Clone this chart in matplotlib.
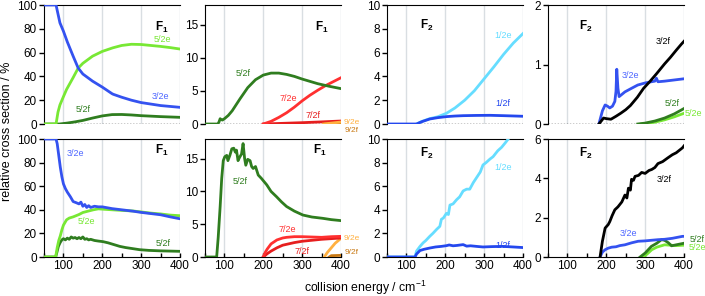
import matplotlib
matplotlib.use("Agg")
import matplotlib.pyplot as plt
from matplotlib.ticker import MultipleLocator

plt.rcParams['font.family'] = ['Liberation Sans', 'DejaVu Sans']
plt.rcParams['mathtext.fontset'] = 'custom'
plt.rcParams['mathtext.rm'] = 'Liberation Sans'
plt.rcParams['mathtext.bf'] = 'Liberation Sans:bold'

BLUE = '#3452f0'
LGREEN = '#78e834'
DGREEN = '#2f7d1f'
RED = '#ff3030'
RED2 = '#e61e1e'
ORANGE = '#ffb040'
DORANGE = '#c87812'
CYAN = '#66ddff'
BLUE2 = '#2448ee'
BLACK = '#000000'

# ---- top row, F1 (0-100 %) ----
a_x32e = [50, 81, 91, 100, 110, 125, 138, 150, 175, 200, 225, 228, 250, 275, 300, 350, 400]
a_y32e = [100, 100, 85, 78, 69, 57, 47, 42, 36, 31, 25.5, 25, 22.5, 20, 18, 15.5, 14]
a_x52e = [50, 81, 86, 91, 100, 108, 125, 138, 150, 175, 200, 227, 250, 275, 300, 325, 350, 375, 400]
a_y52e = [0, 0, 10, 16, 23, 29, 39, 47, 51, 57, 61, 64, 66, 67, 66.8, 66, 65.2, 64.2, 63]
a_x52f = [50, 90, 110, 130, 150, 175, 200, 225, 250, 275, 300, 350, 400]
a_y52f = [0, 0, 0.8, 1.8, 3, 5, 6.8, 7.9, 8, 7.6, 7, 6.2, 5.6]

# ---- top row, F1 (small) ----
b_x52f = [50, 83, 86, 89, 92, 95, 100, 110, 120, 140, 160, 180, 200, 220, 240, 260, 280, 300, 320, 340, 370, 400]
b_y52f = [0, 0, 0.3, 0.8, 0.65, 0.6, 0.8, 1.3, 2.0, 3.8, 5.5, 6.7, 7.4, 7.7, 7.7, 7.5, 7.2, 6.8, 6.45, 6.1, 5.7, 5.35]
b_x72e = [200, 220, 240, 260, 280, 300, 320, 340, 360, 380, 400]
b_y72e = [0, 0.4, 1.0, 1.7, 2.55, 3.5, 4.35, 5.1, 5.8, 6.4, 7.0]
b_x72f = [200, 250, 300, 350, 400]
b_y72f = [0, 0.1, 0.2, 0.32, 0.45]
b_x92e = [355, 370, 385, 400]
b_y92e = [0, 0.1, 0.2, 0.3]
b_x92f = [360, 400]
b_y92f = [0, 0.1]

# ---- top row, F2 (0-10) ----
c_x12f = [50, 126, 140, 160, 180, 203, 225, 246, 280, 315, 350, 400]
c_y12f = [0, 0, 0.2, 0.42, 0.53, 0.62, 0.67, 0.7, 0.72, 0.73, 0.7, 0.65]
c_x12e = [126, 140, 160, 180, 203, 225, 250, 275, 300, 325, 350, 375, 400]
c_y12e = [0, 0.22, 0.45, 0.6, 0.9, 1.35, 2.0, 2.8, 3.8, 4.8, 5.85, 6.8, 7.6]

# ---- top row, F2 (0-2) ----
d_x32e = [181, 190, 197, 203, 209, 216, 222, 225, 227, 230, 233, 248, 265, 281, 300, 316, 325, 329, 333, 350, 375, 400]
d_y32e = [0, 0.22, 0.32, 0.3, 0.27, 0.3, 0.38, 0.55, 0.92, 0.6, 0.46, 0.54, 0.6, 0.655, 0.69, 0.71, 0.72, 0.77, 0.71, 0.72, 0.74, 0.76]
d_x32f = [181, 193, 200, 212, 225, 237, 250, 262, 280, 296, 313, 330, 350, 365, 380, 393, 400]
d_y32f = [0, 0.1, 0.09, 0.08, 0.13, 0.18, 0.24, 0.31, 0.45, 0.6, 0.72, 0.85, 1.01, 1.12, 1.24, 1.34, 1.39]
d_x52f = [281, 300, 325, 350, 375, 400]
d_y52f = [0, 0.015, 0.05, 0.1, 0.17, 0.26]
d_x52e = [290, 325, 350, 375, 400]
d_y52e = [0, 0.03, 0.07, 0.12, 0.18]

# ---- bottom row, F1 (0-100 %) ----
e_x32e = [50, 81, 84, 88, 92, 96, 100, 105, 110, 118, 125, 133, 140, 145, 150, 155, 160, 165, 170, 180,
          190, 200, 225, 250, 280, 300, 325, 350, 375, 400]
e_y32e = [100, 100, 96, 86, 76, 68, 62, 58, 55, 51, 47, 46, 45, 46.5, 43, 44.5, 42, 43.5, 42, 43,
          42.5, 42.5, 41, 40, 38.8, 37.8, 36.8, 35.8, 34, 32.4]
e_x52e = [50, 80, 84, 88, 92, 96, 100, 108, 115, 125, 140, 150, 165, 177, 190, 202, 225, 250, 279, 300,
          325, 350, 375, 400]
e_y52e = [0, 0, 8, 14, 18, 23, 27, 31.5, 33, 34, 36, 37.7, 39, 40, 40.8, 40.5, 40, 39.5, 39, 38.2,
          37.2, 36.5, 35.5, 35]
e_x52f = [50, 80, 84, 87, 92, 96, 100, 105, 110, 115, 120, 125, 130, 135, 140, 145, 150, 155, 160, 165,
          170, 180, 190, 202, 215, 230, 245, 260, 280, 296, 320, 350, 375, 400]
e_y52f = [0, 0, 5, 9, 12.5, 14.5, 15.5, 14.5, 16, 15, 17, 16, 16.5, 15.5, 16.5, 15.5, 17, 15, 15.5, 14.5,
          15, 14, 13.5, 13, 12, 10.5, 9, 8, 7, 6.2, 5.6, 5.2, 5, 4.8]

# ---- bottom row, F1 (small) ----
f_x52f = [50, 80, 84, 89, 93, 97, 101, 106, 109, 114, 119, 124, 128, 131, 135, 139, 144, 148, 152, 155,
          160, 166, 170, 174, 180, 187, 195, 209, 220, 234, 247, 260, 280, 302, 325, 353, 375, 400]
f_y52f = [0, 0, 3, 7.7, 12, 14.7, 15.3, 15.5, 14.7, 15.5, 16.5, 16.6, 16, 16.3, 14.7, 15.2, 15.7, 17.3, 15, 14,
          14.9, 14.7, 13.8, 13.5, 13.8, 12.5, 12, 11, 10, 9.2, 8.4, 7.7, 7, 6.4, 6.1, 5.9, 5.7, 5.55]
f_x72e = [200, 205, 210, 220, 235, 250, 260, 280, 300, 325, 350, 375, 400]
f_y72e = [0, 0.7, 1.2, 2.0, 2.6, 2.9, 3.0, 3.1, 3.1, 3.05, 3.0, 3.1, 3.15]
f_x72f = [200, 210, 220, 235, 250, 265, 280, 300, 325, 350, 375, 400]
f_y72f = [0, 0.5, 0.9, 1.4, 1.8, 2.0, 2.2, 2.4, 2.55, 2.7, 2.8, 2.9]
f_x92e = [357, 365, 375, 385, 395, 400]
f_y92e = [0, 0.7, 1.4, 2.1, 2.6, 2.85]
f_x92f = [370, 375, 400]
f_y92f = [0, 0.2, 0.25]

# ---- bottom row, F2 (0-10) ----
g_x12e = [50, 122, 126, 135, 143, 150, 160, 168, 178, 186, 190, 195, 203, 208, 212, 220, 229, 237, 246, 255,
          263, 272, 280, 290, 297, 305, 315, 323, 335, 345, 355, 362]
g_y12e = [0, 0, 0.5, 0.9, 1.2, 1.4, 1.75, 2.0, 2.35, 2.6, 3.2, 3.3, 3.7, 3.6, 4.4, 4.5, 4.85, 5.1, 5.6, 5.75,
          5.75, 6.3, 6.7, 7.2, 7.8, 8.0, 8.3, 8.5, 9.0, 9.3, 9.7, 10.0]
g_x12f = [50, 122, 126, 135, 145, 160, 175, 190, 203, 210, 220, 230, 246, 255, 265, 280, 297, 320, 348, 375, 400]
g_y12f = [0, 0, 0.25, 0.55, 0.65, 0.76, 0.85, 0.9, 0.96, 1.02, 0.95, 0.98, 1.05, 0.92, 0.95, 0.9, 0.85, 0.88,
          0.9, 0.85, 0.8]

# ---- bottom row, F2 (0-6) ----
h_x32f = [184, 190, 197, 205, 209, 215, 222, 230, 240, 248, 253, 257, 262, 265, 270, 274, 283, 291, 300, 310,
          317, 325, 333, 345, 359, 370, 380, 396, 400]
h_y32f = [0, 0.8, 1.47, 1.65, 1.8, 2.1, 2.4, 2.55, 2.8, 3.15, 3.0, 3.5, 3.4, 3.95, 3.9, 4.1, 4.15, 4.3, 4.25, 4.4,
          4.45, 4.55, 4.75, 4.85, 5.05, 5.2, 5.3, 5.55, 5.65]
h_x32e = [184, 190, 197, 205, 214, 225, 235, 248, 265, 282, 300, 316, 333, 350, 370, 396, 400]
h_y32e = [0, 0.25, 0.37, 0.45, 0.5, 0.52, 0.58, 0.62, 0.72, 0.8, 0.82, 0.85, 0.88, 0.9, 0.95, 1.05, 1.05]
h_x52f = [287, 300, 316, 330, 342, 350, 360, 368, 380, 400]
h_y52f = [0, 0.2, 0.54, 0.7, 0.88, 0.85, 0.72, 0.57, 0.62, 0.7]
h_x52e = [295, 305, 317, 330, 350, 365, 380, 400]
h_y52e = [0, 0.15, 0.37, 0.5, 0.62, 0.6, 0.58, 0.6]

W, H = 705, 296
fig = plt.figure(figsize=(W / 100, H / 100), dpi=100)

col_left = [44, 205, 387, 548]
col_w = 136
rows = [(5, 124), (139, 257)]   # top, bottom in pixels


def make_ax(col, row, ymax, ystep):
    top, bot = rows[row]
    ax = fig.add_axes([col_left[col] / W, (H - bot) / H, col_w / W, (bot - top) / H])
    ax.set_xlim(50, 400)
    ax.set_ylim(0, ymax)
    ax.yaxis.set_major_locator(MultipleLocator(ystep))
    for x in (100, 200, 300, 400):
        ax.axvline(x, color='#d9dee2', lw=1, zorder=0)
    ax.spines['right'].set_visible(False)
    ax.tick_params(axis='y', direction='out', length=3.5, width=1, labelsize=8.5, pad=1.5)
    if row == 0:
        ax.spines['bottom'].set_visible(False)
        ax.set_xticks([])
        ax.axhline(0, color='black', lw=1, ls=(0, (1, 1.2)), zorder=1)
    else:
        ax.set_xticks([100, 200, 300, 400])
        ax.xaxis.set_minor_locator(MultipleLocator(50))
        ax.tick_params(axis='x', which='both', direction='in', length=3, width=1,
                       labelsize=8.5, pad=2)
    return ax


def curve(ax, x, y, c):
    ax.plot(x, y, color=c, lw=2, solid_joinstyle='round', zorder=3, clip_on=True)


def lab(ax, x, y, s, c, size=6.5):
    ax.text(x / W, 1 - y / H, s, color=c, fontsize=size, transform=fig.transFigure,
            ha='center', va='center')


def flab(x, y, n):
    fig.text(x / W, 1 - y / H, r'$\mathbf{F_%d}$' % n, fontsize=8.5, ha='center', va='center')


ax = make_ax(0, 0, 100, 20)
curve(ax, a_x52f, a_y52f, DGREEN)
curve(ax, a_x52e, a_y52e, LGREEN)
curve(ax, a_x32e, a_y32e, BLUE)
lab(ax, 162, 40, '5/2e', LGREEN)
lab(ax, 160, 97, '3/2e', '#4d66ff')
lab(ax, 83, 109, '5/2f', DGREEN)
flab(162, 27, 1)

ax = make_ax(1, 0, 18, 5)
curve(ax, b_x72f, b_y72f, RED2)
curve(ax, b_x92f, b_y92f, DORANGE)
curve(ax, b_x92e, b_y92e, ORANGE)
curve(ax, b_x72e, b_y72e, RED)
curve(ax, b_x52f, b_y52f, DGREEN)
lab(ax, 243, 74, '5/2f', DGREEN)
lab(ax, 288, 98, '7/2e', RED)
lab(ax, 313, 116, '7/2f', RED2)
lab(ax, 352, 122, '9/2e', ORANGE, 6)
lab(ax, 352, 130.5, '9/2f', DORANGE, 6)
flab(322, 27, 1)

ax = make_ax(2, 0, 10, 2)
curve(ax, c_x12e, c_y12e, CYAN)
curve(ax, c_x12f, c_y12f, BLUE2)
lab(ax, 503, 36, '1/2e', CYAN)
lab(ax, 503, 104, '1/2f', BLUE2)
flab(427, 25, 2)

ax = make_ax(3, 0, 2, 1)
curve(ax, d_x52e, d_y52e, LGREEN)
curve(ax, d_x52f, d_y52f, DGREEN)
curve(ax, d_x32e, d_y32e, BLUE)
curve(ax, d_x32f, d_y32f, BLACK)
lab(ax, 663, 41, '3/2f', BLACK)
lab(ax, 630, 76, '3/2e', '#4d66ff')
lab(ax, 672, 103, '5/2f', DGREEN)
lab(ax, 693, 114, '5/2e', LGREEN)
flab(586, 26, 2)

ax = make_ax(0, 1, 100, 20)
curve(ax, e_x52f, e_y52f, DGREEN)
curve(ax, e_x52e, e_y52e, LGREEN)
curve(ax, e_x32e, e_y32e, BLUE)
lab(ax, 75, 153, '3/2e', '#4d66ff')
lab(ax, 86, 221, '5/2e', LGREEN)
lab(ax, 163, 244, '5/2f', DGREEN)
flab(162, 150, 1)

ax = make_ax(1, 1, 18, 5)
curve(ax, f_x92f, f_y92f, DORANGE)
curve(ax, f_x92e, f_y92e, ORANGE)
curve(ax, f_x72f, f_y72f, RED2)
curve(ax, f_x72e, f_y72e, RED)
curve(ax, f_x52f, f_y52f, DGREEN)
lab(ax, 240, 182, '5/2f', DGREEN)
lab(ax, 287, 229, '7/2e', RED)
lab(ax, 302, 251, '7/2f', RED2)
lab(ax, 352, 239, '9/2e', ORANGE, 6)
lab(ax, 352, 253, '9/2f', DORANGE, 6)
flab(320, 150, 1)

ax = make_ax(2, 1, 10, 2)
curve(ax, g_x12e, g_y12e, CYAN)
curve(ax, g_x12f, g_y12f, BLUE2)
lab(ax, 503, 168, '1/2e', CYAN)
lab(ax, 503, 246, '1/2f', BLUE2)
flab(427, 153, 2)

ax = make_ax(3, 1, 6, 2)
curve(ax, h_x52e, h_y52e, LGREEN)
curve(ax, h_x52f, h_y52f, DGREEN)
curve(ax, h_x32e, h_y32e, BLUE)
curve(ax, h_x32f, h_y32f, BLACK)
lab(ax, 664, 179, '3/2f', BLACK)
lab(ax, 628, 234, '3/2e', '#4d66ff')
lab(ax, 697, 239, '5/2f', DGREEN)
lab(ax, 697, 247, '5/2e', LGREEN)
flab(586, 153, 2)

fig.text(7 / W, 1 - 131 / H, 'relative cross section / %', rotation=90, fontsize=9,
         ha='center', va='center')
fig.text(365 / W, 1 - 288 / H, 'collision energy / cm$^{-1}$', fontsize=8.8,
         ha='center', va='center')

fig.savefig('out.png', dpi=100)
